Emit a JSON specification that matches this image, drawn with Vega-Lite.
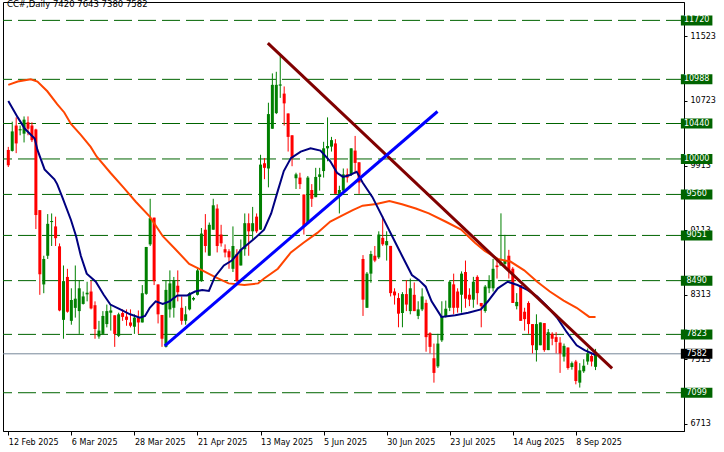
{
  "$schema": "https://vega.github.io/schema/vega-lite/v6.json",
  "width": 681,
  "height": 429,
  "autosize": "none",
  "padding": {"left": 3, "top": 2, "right": 40, "bottom": 21},
  "background": "white",
  "title": {"text": "CC#,Daily  7420 7643 7380 7582", "anchor": "start", "frame": "group", "orient": "top", "offset": 0, "dx": 4, "dy": 13, "baseline": "alphabetic", "font": "DejaVu Sans", "fontSize": 8.5, "fontWeight": "normal", "color": "#000000"},
  "config": {"view": {"stroke": "#000000", "strokeWidth": 1}, "axis": {"labelFont": "DejaVu Sans", "labelFontSize": 8, "labelColor": "#000000", "domainColor": "#000000", "tickColor": "#000000", "grid": false}},
  "datasets": {
    "candles": [
      {"i":0,"o":10112,"h":10150,"l":9900,"c":9922},
      {"i":1,"o":10100,"h":10463,"l":10092,"c":10342},
      {"i":2,"o":10415,"h":10516,"l":10072,"c":10193},
      {"i":3,"o":10355,"h":10415,"l":10294,"c":10370},
      {"i":4,"o":10314,"h":10528,"l":10205,"c":10488},
      {"i":5,"o":10455,"h":10528,"l":10294,"c":10375},
      {"i":6,"o":10415,"h":10455,"l":10210,"c":10233},
      {"i":7,"o":10366,"h":10375,"l":9130,"c":9304},
      {"i":8,"o":9365,"h":9365,"l":8314,"c":8569},
      {"i":9,"o":8443,"h":8799,"l":8334,"c":8759},
      {"i":10,"o":8799,"h":9316,"l":8759,"c":9195},
      {"i":11,"o":9217,"h":9324,"l":8920,"c":9230},
      {"i":12,"o":9163,"h":9284,"l":8920,"c":9017},
      {"i":13,"o":8916,"h":8952,"l":8110,"c":8120},
      {"i":14,"o":8003,"h":8678,"l":7769,"c":8484},
      {"i":15,"o":8536,"h":8637,"l":8092,"c":8104},
      {"i":16,"o":7991,"h":8395,"l":7943,"c":8250},
      {"i":17,"o":8152,"h":8678,"l":8031,"c":8266},
      {"i":18,"o":8112,"h":8496,"l":7829,"c":8395},
      {"i":19,"o":8201,"h":8355,"l":8193,"c":8294},
      {"i":20,"o":8320,"h":8476,"l":8233,"c":8340},
      {"i":21,"o":8355,"h":8488,"l":8133,"c":8145},
      {"i":22,"o":8185,"h":8233,"l":7769,"c":7890},
      {"i":23,"o":7797,"h":7991,"l":7769,"c":7870},
      {"i":24,"o":7829,"h":8112,"l":7820,"c":8052},
      {"i":25,"o":7951,"h":8193,"l":7910,"c":8112},
      {"i":26,"o":8092,"h":8193,"l":7870,"c":8120},
      {"i":27,"o":8060,"h":8060,"l":7668,"c":7829},
      {"i":28,"o":7805,"h":8092,"l":7789,"c":8072},
      {"i":29,"o":8088,"h":8133,"l":7991,"c":8040},
      {"i":30,"o":8044,"h":8133,"l":7930,"c":8003},
      {"i":31,"o":7971,"h":8133,"l":7910,"c":7930},
      {"i":32,"o":7918,"h":8072,"l":7829,"c":8031},
      {"i":33,"o":8031,"h":8120,"l":7829,"c":7971},
      {"i":34,"o":7971,"h":8435,"l":7971,"c":8334},
      {"i":35,"o":8326,"h":8908,"l":8314,"c":8908},
      {"i":36,"o":8940,"h":9506,"l":8920,"c":9264},
      {"i":37,"o":9272,"h":9272,"l":8435,"c":8484},
      {"i":38,"o":8443,"h":8443,"l":7959,"c":8072},
      {"i":39,"o":8064,"h":8064,"l":7668,"c":7769},
      {"i":40,"o":7668,"h":8488,"l":7660,"c":8375},
      {"i":41,"o":8133,"h":8617,"l":8031,"c":8456},
      {"i":42,"o":8153,"h":8536,"l":8031,"c":8488},
      {"i":43,"o":8427,"h":8617,"l":8233,"c":8346},
      {"i":44,"o":8153,"h":8294,"l":7943,"c":7991},
      {"i":45,"o":7991,"h":8173,"l":7943,"c":8072},
      {"i":46,"o":8133,"h":8346,"l":8120,"c":8334},
      {"i":47,"o":8255,"h":8290,"l":8240,"c":8275},
      {"i":48,"o":8314,"h":8657,"l":8306,"c":8617},
      {"i":49,"o":8484,"h":9143,"l":8476,"c":9074},
      {"i":50,"o":9122,"h":9316,"l":8840,"c":8920},
      {"i":51,"o":8799,"h":9211,"l":8799,"c":9183},
      {"i":52,"o":9122,"h":9506,"l":9122,"c":9425},
      {"i":53,"o":9385,"h":9437,"l":8840,"c":8920},
      {"i":54,"o":9062,"h":9183,"l":8912,"c":8953},
      {"i":55,"o":8880,"h":8940,"l":8779,"c":8839},
      {"i":56,"o":8855,"h":8880,"l":8637,"c":8779},
      {"i":57,"o":8637,"h":9163,"l":8597,"c":8920},
      {"i":58,"o":8819,"h":8880,"l":8476,"c":8484},
      {"i":59,"o":8678,"h":9001,"l":8678,"c":8880},
      {"i":60,"o":8880,"h":9324,"l":8799,"c":9203},
      {"i":61,"o":9203,"h":9324,"l":8799,"c":9102},
      {"i":62,"o":9102,"h":9405,"l":9001,"c":9203},
      {"i":63,"o":9284,"h":9324,"l":9082,"c":9102},
      {"i":64,"o":9122,"h":10052,"l":9122,"c":9930},
      {"i":65,"o":9947,"h":10011,"l":9749,"c":9890},
      {"i":66,"o":9882,"h":10698,"l":9648,"c":10557},
      {"i":67,"o":10375,"h":11062,"l":10375,"c":10920},
      {"i":68,"o":10569,"h":11082,"l":10557,"c":10920},
      {"i":69,"o":10910,"h":11284,"l":10758,"c":10925},
      {"i":70,"o":10811,"h":10900,"l":10415,"c":10690},
      {"i":71,"o":10565,"h":10565,"l":10092,"c":10274},
      {"i":72,"o":10294,"h":10294,"l":9910,"c":10011},
      {"i":73,"o":9761,"h":9829,"l":9627,"c":9809},
      {"i":74,"o":9769,"h":9829,"l":9627,"c":9688},
      {"i":75,"o":9559,"h":9559,"l":9062,"c":9163},
      {"i":76,"o":9203,"h":9789,"l":9203,"c":9769},
      {"i":77,"o":9615,"h":9688,"l":9405,"c":9506},
      {"i":78,"o":9526,"h":9890,"l":9526,"c":9777},
      {"i":79,"o":9777,"h":9890,"l":9607,"c":9809},
      {"i":80,"o":9850,"h":10213,"l":9769,"c":10132},
      {"i":81,"o":10132,"h":10516,"l":9971,"c":10161},
      {"i":82,"o":10153,"h":10274,"l":10092,"c":10234},
      {"i":83,"o":10193,"h":10246,"l":9567,"c":9567},
      {"i":84,"o":9567,"h":9668,"l":9324,"c":9615},
      {"i":85,"o":9607,"h":9882,"l":9607,"c":9809},
      {"i":86,"o":9809,"h":9882,"l":9708,"c":9769},
      {"i":87,"o":9809,"h":10132,"l":9789,"c":10132},
      {"i":88,"o":10104,"h":10286,"l":9817,"c":9951},
      {"i":89,"o":9959,"h":9959,"l":9567,"c":9708},
      {"i":90,"o":8759,"h":8807,"l":8052,"c":8254},
      {"i":91,"o":8153,"h":8597,"l":8153,"c":8577},
      {"i":92,"o":8577,"h":8860,"l":8464,"c":8820},
      {"i":93,"o":8799,"h":8920,"l":8719,"c":8739},
      {"i":94,"o":8779,"h":9102,"l":8759,"c":9062},
      {"i":95,"o":9021,"h":9292,"l":8921,"c":8941},
      {"i":96,"o":8929,"h":9102,"l":8739,"c":8981},
      {"i":97,"o":8921,"h":8921,"l":8294,"c":8335},
      {"i":98,"o":8355,"h":8395,"l":8193,"c":8307},
      {"i":99,"o":8274,"h":8335,"l":7911,"c":8080},
      {"i":100,"o":8088,"h":8347,"l":7911,"c":8323},
      {"i":101,"o":8323,"h":8496,"l":8112,"c":8193},
      {"i":102,"o":8112,"h":8516,"l":8072,"c":8395},
      {"i":103,"o":8314,"h":8468,"l":8112,"c":8112},
      {"i":104,"o":8052,"h":8234,"l":8012,"c":8133},
      {"i":105,"o":8133,"h":8395,"l":8112,"c":8294},
      {"i":106,"o":8214,"h":8254,"l":7608,"c":7789},
      {"i":107,"o":7838,"h":7850,"l":7587,"c":7668},
      {"i":108,"o":7527,"h":7709,"l":7224,"c":7345},
      {"i":109,"o":7426,"h":7830,"l":7406,"c":7709},
      {"i":110,"o":7749,"h":8234,"l":7729,"c":8052},
      {"i":111,"o":8040,"h":8242,"l":8032,"c":8141},
      {"i":112,"o":8153,"h":8496,"l":8112,"c":8476},
      {"i":113,"o":8444,"h":8577,"l":8072,"c":8153},
      {"i":114,"o":8355,"h":8395,"l":8093,"c":8153},
      {"i":115,"o":8315,"h":8605,"l":8093,"c":8577},
      {"i":116,"o":8597,"h":8739,"l":8153,"c":8266},
      {"i":117,"o":8315,"h":8395,"l":8173,"c":8254},
      {"i":118,"o":8254,"h":8537,"l":8153,"c":8476},
      {"i":119,"o":8537,"h":8557,"l":8193,"c":8335},
      {"i":120,"o":8213,"h":8213,"l":7911,"c":8173},
      {"i":121,"o":8113,"h":8436,"l":8092,"c":8416},
      {"i":122,"o":8395,"h":8557,"l":8335,"c":8496},
      {"i":123,"o":8395,"h":8759,"l":8355,"c":8637},
      {"i":124,"o":8678,"h":8759,"l":8516,"c":8658},
      {"i":125,"o":8678,"h":9325,"l":8678,"c":8718},
      {"i":126,"o":8698,"h":9058,"l":8670,"c":8739},
      {"i":127,"o":8799,"h":8872,"l":8516,"c":8618},
      {"i":128,"o":8638,"h":8658,"l":8213,"c":8213},
      {"i":129,"o":8173,"h":8335,"l":8133,"c":8226},
      {"i":130,"o":8436,"h":8436,"l":7991,"c":7991},
      {"i":131,"o":8104,"h":8153,"l":7870,"c":8012},
      {"i":132,"o":8213,"h":8234,"l":7830,"c":7951},
      {"i":133,"o":7951,"h":7951,"l":7587,"c":7688},
      {"i":134,"o":7628,"h":8072,"l":7486,"c":7951},
      {"i":135,"o":7688,"h":7971,"l":7688,"c":7971},
      {"i":136,"o":7963,"h":7963,"l":7607,"c":7628},
      {"i":137,"o":7628,"h":7890,"l":7628,"c":7850},
      {"i":138,"o":7830,"h":7850,"l":7688,"c":7769},
      {"i":139,"o":7789,"h":7850,"l":7587,"c":7729},
      {"i":140,"o":7721,"h":7789,"l":7345,"c":7587},
      {"i":141,"o":7547,"h":7709,"l":7486,"c":7680},
      {"i":142,"o":7660,"h":7660,"l":7385,"c":7406},
      {"i":143,"o":7418,"h":7486,"l":7385,"c":7466},
      {"i":144,"o":7486,"h":7506,"l":7203,"c":7244},
      {"i":145,"o":7224,"h":7466,"l":7163,"c":7377},
      {"i":146,"o":7365,"h":7514,"l":7345,"c":7434},
      {"i":147,"o":7486,"h":7648,"l":7446,"c":7587},
      {"i":148,"o":7555,"h":7587,"l":7426,"c":7486},
      {"i":149,"o":7420,"h":7643,"l":7380,"c":7582}
    ],
    "maFast": [
      {"i":0,"v":10718},{"i":2.4,"v":10516},{"i":4.2,"v":10375},{"i":6.7,"v":10253},{"i":7.4,"v":10112},{"i":9.2,"v":9870},{"i":11.7,"v":9748},{"i":12.4,"v":9688},{"i":13.7,"v":9526},{"i":15.9,"v":9243},{"i":17.2,"v":9041},{"i":18.4,"v":8799},{"i":19.9,"v":8577},{"i":22.2,"v":8476},{"i":24.2,"v":8314},{"i":25.9,"v":8193},{"i":28.4,"v":8133},{"i":30.9,"v":8072},{"i":33.4,"v":8031},{"i":34.7,"v":8052},{"i":35.9,"v":8153},{"i":37.4,"v":8233},{"i":39.2,"v":8201},{"i":40.9,"v":8233},{"i":42.9,"v":8306},{"i":45.4,"v":8306},{"i":47.4,"v":8355},{"i":49.2,"v":8375},{"i":50.9,"v":8363},{"i":52.4,"v":8536},{"i":54.7,"v":8678},{"i":56.7,"v":8739},{"i":59.2,"v":8880},{"i":62.4,"v":9009},{"i":64.9,"v":9122},{"i":66.7,"v":9324},{"i":68.4,"v":9607},{"i":69.9,"v":9850},{"i":71.7,"v":10011},{"i":74.2,"v":10092},{"i":76.7,"v":10132},{"i":79.2,"v":10104},{"i":81.7,"v":9971},{"i":83.4,"v":9829},{"i":84.9,"v":9777},{"i":86.7,"v":9801},{"i":88.4,"v":9842},{"i":89.9,"v":9708},{"i":92.4,"v":9526},{"i":94.9,"v":9284},{"i":97.4,"v":9041},{"i":99.9,"v":8799},{"i":102.4,"v":8560},{"i":104.2,"v":8496},{"i":105.9,"v":8415},{"i":107.4,"v":8234},{"i":109.9,"v":8040},{"i":113.4,"v":8060},{"i":116.7,"v":8092},{"i":119.9,"v":8133},{"i":121.7,"v":8234},{"i":124.2,"v":8395},{"i":126.7,"v":8476},{"i":129.2,"v":8436},{"i":131.7,"v":8375},{"i":134.2,"v":8294},{"i":136.7,"v":8173},{"i":139.2,"v":8032},{"i":141.7,"v":7850},{"i":144.2,"v":7688},{"i":146.2,"v":7628},{"i":149,"v":7567}
    ],
    "maSlow": [
      {"i":0,"v":10920},{"i":2.4,"v":10961},{"i":5.7,"v":10989},{"i":7.4,"v":10961},{"i":9.9,"v":10840},{"i":12.4,"v":10680},{"i":14.2,"v":10577},{"i":15.9,"v":10435},{"i":18.4,"v":10300},{"i":20.9,"v":10150},{"i":22.4,"v":10031},{"i":25.9,"v":9829},{"i":29.2,"v":9647},{"i":32.4,"v":9466},{"i":35.9,"v":9284},{"i":39.2,"v":9041},{"i":42.4,"v":8880},{"i":45.9,"v":8698},{"i":49.2,"v":8617},{"i":52.4,"v":8536},{"i":55.9,"v":8456},{"i":59.9,"v":8436},{"i":63.4,"v":8456},{"i":64.9,"v":8516},{"i":68.4,"v":8638},{"i":71.7,"v":8840},{"i":74.9,"v":8961},{"i":78.4,"v":9082},{"i":81.7,"v":9223},{"i":84.9,"v":9304},{"i":87.4,"v":9365},{"i":89.9,"v":9420},{"i":93.4,"v":9440},{"i":96.7,"v":9478},{"i":99.9,"v":9438},{"i":103.4,"v":9385},{"i":106.7,"v":9324},{"i":110.9,"v":9224},{"i":114.9,"v":9123},{"i":118.4,"v":8961},{"i":120.9,"v":8860},{"i":124.2,"v":8759},{"i":127.4,"v":8727},{"i":130.9,"v":8618},{"i":134.2,"v":8476},{"i":137.4,"v":8355},{"i":140.9,"v":8242},{"i":144.2,"v":8153},{"i":147.4,"v":8040},{"i":149,"v":8040}
    ],
    "trend": [
      {"line":"resistance","i":65.85,"v":11437},{"line":"resistance","i":153.2,"v":7402},
      {"line":"support","i":39.7,"v":7680},{"line":"support","i":108.9,"v":10589}
    ],
    "levels": [
      {"v":11720,"t":"11720"},{"v":10988,"t":"10988"},{"v":10440,"t":"10440"},{"v":10000,"t":"10000"},{"v":9560,"t":"9560"},{"v":9051,"t":"9051"},{"v":8490,"t":"8490"},{"v":7823,"t":"7823"},{"v":7099,"t":"7099"}
    ],
    "price": [{"v":7582,"t":"7582"}]
  },
  "layer": [
    {
      "data": {"name": "levels"},
      "mark": {"type": "rule", "color": "#006400", "strokeWidth": 1, "strokeDash": [18, 6]},
      "encoding": {"y": {"field": "v", "type": "quantitative", "scale": {"domain": [6686, 11886], "zero": false, "nice": false}}}
    },
    {
      "data": {"name": "price"},
      "mark": {"type": "rule", "color": "#778899", "strokeWidth": 1},
      "encoding": {"y": {"field": "v", "type": "quantitative"}}
    },
    {
      "data": {"name": "candles"},
      "mark": {"type": "rule", "strokeWidth": 1, "clip": true},
      "encoding": {
        "x": {"field": "i", "type": "quantitative", "scale": {"domain": [-0.075, 170.175], "zero": false, "nice": false},
          "axis": {"title": null, "values": [0, 16, 32, 48, 64, 80, 96, 112, 128, 144], "tickSize": 4, "labelAlign": "left", "labelPadding": 3, "labelOverlap": false, "labelBound": false, "labelFlush": false,
            "labelExpr": "datum.value==0?'12 Feb 2025':datum.value==16?'6 Mar 2025':datum.value==32?'28 Mar 2025':datum.value==48?'21 Apr 2025':datum.value==64?'13 May 2025':datum.value==80?'5 Jun 2025':datum.value==96?'30 Jun 2025':datum.value==112?'23 Jul 2025':datum.value==128?'14 Aug 2025':'8 Sep 2025'"}},
        "y": {"field": "l", "type": "quantitative",
          "axis": {"title": null, "orient": "right", "values": [11523, 11123, 10723, 10323, 9913, 9513, 9113, 8713, 8313, 7913, 7513, 7113, 6713], "tickSize": 3, "labelPadding": 3, "labelOverlap": false, "labelBound": false, "labelFlush": false, "format": "d"}},
        "y2": {"field": "h"},
        "color": {"condition": {"test": "datum.c >= datum.o", "value": "#008000"}, "value": "#ff0000"}
      }
    },
    {
      "data": {"name": "candles"},
      "mark": {"type": "bar", "size": 3, "clip": true},
      "encoding": {
        "x": {"field": "i", "type": "quantitative"},
        "y": {"field": "o", "type": "quantitative"},
        "y2": {"field": "c"},
        "color": {"condition": {"test": "datum.c >= datum.o", "value": "#008000"}, "value": "#ff0000"}
      }
    },
    {
      "data": {"name": "maSlow"},
      "mark": {"type": "line", "color": "#ff4500", "strokeWidth": 2, "clip": true},
      "encoding": {"x": {"field": "i", "type": "quantitative"}, "y": {"field": "v", "type": "quantitative"}}
    },
    {
      "data": {"name": "maFast"},
      "mark": {"type": "line", "color": "#000080", "strokeWidth": 2, "clip": true},
      "encoding": {"x": {"field": "i", "type": "quantitative"}, "y": {"field": "v", "type": "quantitative"}}
    },
    {
      "data": {"name": "trend"},
      "mark": {"type": "line", "strokeWidth": 3, "clip": true},
      "encoding": {
        "x": {"field": "i", "type": "quantitative"},
        "y": {"field": "v", "type": "quantitative"},
        "color": {"field": "line", "type": "nominal", "scale": {"domain": ["resistance", "support"], "range": ["#800000", "#0000ff"]}, "legend": null}
      }
    },
    {
      "data": {"name": "levels"},
      "mark": {"type": "bar", "size": 10, "color": "#006400", "clip": false},
      "encoding": {
        "x": {"datum": 170.65, "type": "quantitative"},
        "x2": {"datum": 178.65},
        "y": {"field": "v", "type": "quantitative"}
      }
    },
    {
      "data": {"name": "levels"},
      "mark": {"type": "text", "color": "#ffffff", "align": "center", "baseline": "middle", "font": "DejaVu Sans", "fontSize": 8, "clip": false},
      "encoding": {
        "x": {"datum": 174.65, "type": "quantitative"},
        "y": {"field": "v", "type": "quantitative"},
        "text": {"field": "t"}
      }
    },
    {
      "data": {"name": "price"},
      "mark": {"type": "bar", "size": 10, "color": "#000000", "clip": false},
      "encoding": {
        "x": {"datum": 170.65, "type": "quantitative"},
        "x2": {"datum": 178.65},
        "y": {"field": "v", "type": "quantitative"}
      }
    },
    {
      "data": {"name": "price"},
      "mark": {"type": "text", "color": "#ffffff", "align": "center", "baseline": "middle", "font": "DejaVu Sans", "fontSize": 8, "clip": false},
      "encoding": {
        "x": {"datum": 174.65, "type": "quantitative"},
        "y": {"field": "v", "type": "quantitative"},
        "text": {"field": "t"}
      }
    }
  ]
}
